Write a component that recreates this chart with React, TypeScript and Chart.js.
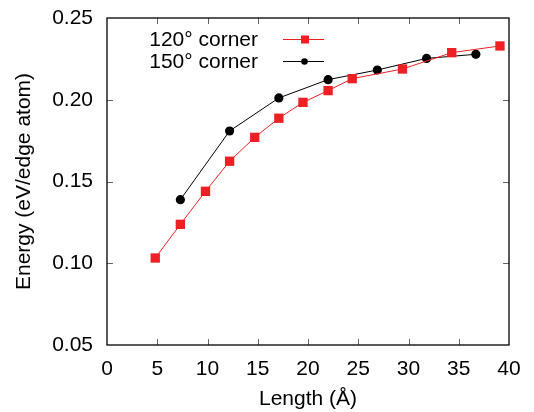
import React, { useEffect, useRef } from "react";
import { Chart, registerables } from "chart.js";

Chart.register(...registerables);

const len120 = [4.8, 7.3, 9.8, 12.2, 14.7, 17.1, 19.5, 22.0, 24.4, 29.4, 34.3, 39.1];
const e120 = [0.1032, 0.1238, 0.144, 0.1624, 0.177, 0.1887, 0.1984, 0.2056, 0.2129, 0.2188, 0.2288, 0.2329];
const len150 = [7.3, 12.2, 17.1, 22.0, 26.9, 31.8, 36.7];
const e150 = [0.1389, 0.1809, 0.2011, 0.2123, 0.2182, 0.2253, 0.2278];
const seriesNames = ["120° corner", "150° corner"];
const xTicks = [0, 5, 10, 15, 20, 25, 30, 35, 40];
const yTicks = [0.05, 0.1, 0.15, 0.2, 0.25];

const RED = "#ee2024";
const FONT = "Liberation Sans, Arial, Helvetica, sans-serif";
const FS = 21;

const framePlugin = {
  id: "frame",
  afterDatasetsDraw(chart: any) {
    const { ctx, chartArea: a, scales } = chart;
    ctx.save();
    ctx.strokeStyle = "#666";
    ctx.lineWidth = 1;
    const tl = 6;
    ctx.beginPath();
    for (const v of xTicks) {
      const px = Math.round(scales.x.getPixelForValue(v)) + 0.5;
      if (v === 0 || v === 40) continue;
      ctx.moveTo(px, a.bottom);
      ctx.lineTo(px, a.bottom - tl);
      ctx.moveTo(px, a.top);
      ctx.lineTo(px, a.top + tl);
    }
    for (const v of yTicks) {
      const py = Math.round(scales.y.getPixelForValue(v)) + 0.5;
      if (v === 0.05 || v === 0.25) continue;
      ctx.moveTo(a.left, py);
      ctx.lineTo(a.left + tl, py);
      ctx.moveTo(a.right, py);
      ctx.lineTo(a.right - tl, py);
    }
    ctx.stroke();
    ctx.strokeStyle = "#000";
    ctx.lineWidth = 1.3;
    ctx.strokeRect(a.left, a.top, a.right - a.left, a.bottom - a.top);

    // legend
    ctx.font = `${FS}px ${FONT}`;
    ctx.textAlign = "right";
    ctx.textBaseline = "alphabetic";
    const rows = [
      { name: seriesNames[0], color: RED, style: "rect", yl: 39, yt: 46 },
      { name: seriesNames[1], color: "#000", style: "circle", yl: 61, yt: 68 },
    ];
    for (const r of rows) {
      ctx.fillStyle = "#000";
      ctx.fillText(r.name, 258, r.yt);
      ctx.strokeStyle = r.color;
      ctx.lineWidth = 1;
      ctx.beginPath();
      ctx.moveTo(283, r.yl + 0.5);
      ctx.lineTo(324, r.yl + 0.5);
      ctx.stroke();
      ctx.fillStyle = r.color;
      if (r.style === "rect") {
        ctx.fillRect(301, r.yl - 3.5, 8, 8);
      } else {
        ctx.beginPath();
        ctx.arc(304.5, r.yl + 0.5, 3.3, 0, Math.PI * 2);
        ctx.fill();
      }
    }
    ctx.restore();
  },
};

export default function App() {
  const ref = useRef<HTMLCanvasElement>(null);
  useEffect(() => {
    if (!ref.current) return;
    const chart = new Chart(ref.current, {
      type: "scatter",
      data: {
        datasets: [
          {
            label: seriesNames[0],
            data: len120.map((x, i) => ({ x, y: e120[i] })),
            showLine: true,
            borderColor: RED,
            backgroundColor: RED,
            borderWidth: 1,
            pointStyle: "rect",
            pointRadius: 6.6,
            pointBorderWidth: 0,
          },
          {
            label: seriesNames[1],
            data: len150.map((x, i) => ({ x, y: e150[i] })),
            showLine: true,
            borderColor: "#000",
            backgroundColor: "#000",
            borderWidth: 1,
            pointStyle: "circle",
            pointRadius: 4.6,
            pointBorderWidth: 0,
          },
        ],
      },
      options: {
        animation: false,
        responsive: false,
        devicePixelRatio: 1,
        layout: { padding: { left: 0, top: 18, right: 25, bottom: 0 } },
        plugins: { legend: { display: false }, tooltip: { enabled: false } },
        scales: {
          x: {
            type: "linear",
            min: 0,
            max: 40,
            afterFit: (s: any) => {
              s.height = 67;
              s.paddingLeft = 0;
              s.paddingRight = 0;
            },
            afterBuildTicks: (s: any) => {
              s.ticks = xTicks.map((v) => ({ value: v }));
            },
            grid: { display: false, drawTicks: false },
            border: { display: false },
            ticks: {
              padding: 12,
              color: "#000",
              font: { family: FONT, size: FS },
              maxRotation: 0,
              autoSkip: false,
            },
            title: {
              display: true,
              text: "Length (Å)",
              color: "#000",
              font: { family: FONT, size: FS },
              padding: { top: 4, bottom: 0 },
            },
          },
          y: {
            type: "linear",
            min: 0.05,
            max: 0.25,
            afterFit: (s: any) => {
              s.width = 107;
              s.paddingTop = 0;
              s.paddingBottom = 0;
            },
            afterBuildTicks: (s: any) => {
              s.ticks = yTicks.map((v) => ({ value: v }));
            },
            grid: { display: false, drawTicks: false },
            border: { display: false },
            ticks: {
              padding: 14,
              color: "#000",
              font: { family: FONT, size: FS },
              autoSkip: false,
              callback: (v: any) => Number(v).toFixed(2),
            },
            title: {
              display: true,
              text: "Energy (eV/edge atom)",
              color: "#000",
              font: { family: FONT, size: FS },
              padding: { top: 12, bottom: 0 },
            },
          },
        },
      },
      plugins: [framePlugin],
    });
    return () => chart.destroy();
  }, []);
  return (
    <div style={{ position: "fixed", left: 0, top: 0, width: 534, height: 412, background: "#fff" }}>
      <canvas ref={ref} width={534} height={412} style={{ width: 534, height: 412 }} />
    </div>
  );
}
